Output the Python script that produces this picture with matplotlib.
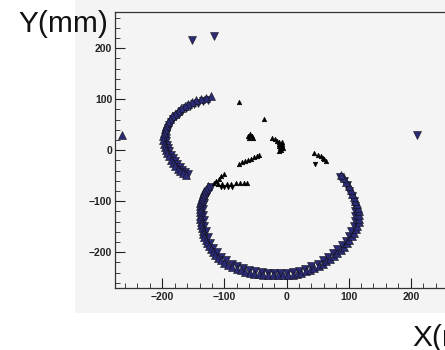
import matplotlib
matplotlib.use("Agg")
import matplotlib.pyplot as plt
from matplotlib.patches import Rectangle
from matplotlib.ticker import MultipleLocator

# ---- data (mm) ----
# left arc, up triangles
arc_up_x = [-122, -130, -138, -145, -152, -158, -164, -170, -175, -180, -184, -188, -191, -194,
            -196, -197, -198, -198, -197, -196, -194, -192, -189, -186, -183, -179, -175, -171,
            -167, -162]
arc_up_y = [106, 103, 101, 98, 95, 91, 86, 82, 77, 72, 67, 61, 55, 48,
            41, 34, 27, 20, 13, 6, 0, -6, -12, -19, -25, -31, -36, -41,
            -45, -49]
# left arc, down triangles
arc_dn_x = [-127, -135, -142, -149, -156, -162, -168, -173, -178, -182, -186, -189, -191, -193,
            -194, -194, -194, -193, -191, -189, -186, -183, -180, -176, -172, -168, -163, -158]
arc_dn_y = [99, 96, 93, 90, 86, 82, 77, 72, 67, 62, 56, 50, 44, 38,
            32, 25, 18, 11, 4, -2, -9, -15, -21, -27, -33, -38, -43, -47]

# big ring, up triangles
ring_up_x = [-126, -129, -132, -134, -136, -138, -139, -140, -140, -140, -139, -139, -138, -137,
             -136, -135, -134, -132, -130, -128, -125, -122, -119, -115, -111, -106, -100, -94,
             -87, -80, -73, -66, -59, -52, -45, -38, -30, -22, -14, -6, 2, 10, 17, 24, 31, 38,
             45, 52, 58, 64, 70, 76, 82, 87, 92, 97, 101, 105, 109, 112, 114, 116, 117, 117,
             116, 115, 113, 111, 109, 106, 103, 100, 96, 92, 88]
ring_up_y = [-70, -75, -80, -86, -92, -98, -104, -110, -116, -122, -128, -134, -140, -146,
             -152, -158, -164, -170, -176, -182, -188, -194, -200, -206, -211, -216, -221, -225,
             -229, -232, -235, -238, -240, -242, -243, -244, -245, -245, -245, -245, -245, -244,
             -242, -240, -237, -234, -230, -226, -222, -218, -213, -207, -201, -195, -189, -182,
             -176, -169, -162, -155, -148, -141, -134, -127, -120, -113, -106, -99, -92, -85,
             -78, -71, -63, -55, -48]
# big ring, down triangles
ring_dn_x = [-121, -127, -131, -133, -134, -134, -133, -132, -130, -127, -123, -118, -112, -105,
             -97, -88, -79, -70, -60, -50, -40, -30, -20, -10, 0, 10, 20, 30, 40, 50, 59, 67,
             75, 82, 89, 95, 100, 104, 108, 110, 111, 111, 110, 108, 105, 101, 97, 93, 86]
ring_dn_y = [-72, -82, -93, -104, -115, -126, -137, -148, -159, -170, -181, -191, -200, -209,
             -216, -222, -227, -231, -235, -237, -239, -240, -240, -240, -240, -239, -236, -232,
             -227, -222, -216, -209, -202, -194, -186, -177, -168, -159, -149, -139, -129, -119,
             -109, -99, -89, -79, -69, -60, -52]

# isolated hits
iso_up_x = [-264]
iso_up_y = [29]
iso_dn_x = [-152, -117, 210]
iso_dn_y = [216, 224, 29]

# small black hits
blk_up_x = [-101, -105, -109, -113, -117, -110, -103, -96, -89, -82, -75, -68, -64,
            -76, -37, -62, -56, -59, -60, -54,
            -24, -19, -15, -12, -8, -12, -8, -12, -7, -10, -6, -9, -12,
            -77, -72, -67, -62, -57, -52, -47, -45,
            45, 50, 55, 58, 61, 64]
blk_up_y = [-46, -51, -56, -61, -65, -66, -66, -66, -66, -65, -65, -64, -64,
            95, 61, 27, 27, 31, 24, 25,
            25, 22, 19, 16, 16, 12, 12, 8, 8, 4, 4, 0, -1,
            -26, -23, -21, -20, -17, -14, -11, -9,
            -6, -9, -12, -15, -18, -21]
blk_dn_x = [-106, -100, -94, -88, 46]
blk_dn_y = [-73, -73, -73, -73, -27]

x_ticks = [-200, -100, 0, 100, 200]
y_ticks = [-200, -100, 0, 100, 200]

# ---- figure ----
W, H = 445, 350
fig = plt.figure(figsize=(W / 100, H / 100), dpi=100)
fig.patch.set_facecolor("white")
fig.patches.append(Rectangle((75 / W, 1 - 313 / H), 1, 313 / H, transform=fig.transFigure,
                             facecolor="#f4f4f4", edgecolor="none", zorder=-5))

ax = fig.add_axes([115 / W, 1 - 288 / H, 343 / W, 276 / H])
ax.set_zorder(1)
ax.set_facecolor("#f4f4f4")
ax.set_xlim(-276, 276)
ax.set_ylim(-270, 271)

navy = "#2a2a76"
kw = dict(linestyle="none", markersize=5.4, markeredgecolor="#111111", markeredgewidth=0.4,
          markerfacecolor=navy)
ax.plot(arc_dn_x, arc_dn_y, "v", **kw)
ax.plot(arc_up_x, arc_up_y, "^", **kw)
ax.plot(ring_dn_x, ring_dn_y, "v", **kw)
ax.plot(ring_up_x, ring_up_y, "^", **kw)
ax.plot(iso_up_x, iso_up_y, "^", **kw)
ax.plot(iso_dn_x, iso_dn_y, "v", **kw)

kb = dict(linestyle="none", markersize=3.2, markeredgecolor="black", markeredgewidth=0.5,
          markerfacecolor="black")
ax.plot(blk_up_x, blk_up_y, "^", **kb)
ax.plot(blk_dn_x, blk_dn_y, "v", **kb)

ax.set_xticks(x_ticks)
ax.set_yticks(y_ticks)
ax.xaxis.set_minor_locator(MultipleLocator(20))
ax.yaxis.set_minor_locator(MultipleLocator(20))
ax.tick_params(which="major", direction="in", length=7, width=0.8, color="#222222",
               labelsize=7.5, labelcolor="#222222", top=False, right=False)
ax.tick_params(which="minor", direction="in", length=3.5, width=0.6, color="#222222",
               top=False, right=False)
ax.tick_params(axis="x", pad=3)
ax.tick_params(axis="y", pad=2)
for lab in ax.get_xticklabels() + ax.get_yticklabels():
    lab.set_fontfamily("Liberation Sans")
    lab.set_fontweight("bold")
for s in ax.spines.values():
    s.set_linewidth(0.9)
    s.set_color("#333333")

fig.text(18 / W, 1 - 10 / H, "Y(mm)", fontsize=21.5, family="Liberation Sans",
         color="#111111", ha="left", va="top", zorder=3)
fig.text(412 / W, 1 - 324 / H, "X(mm)", fontsize=21.5, family="Liberation Sans",
         color="#111111", ha="left", va="top", zorder=3)

fig.savefig("out.png", dpi=100)
